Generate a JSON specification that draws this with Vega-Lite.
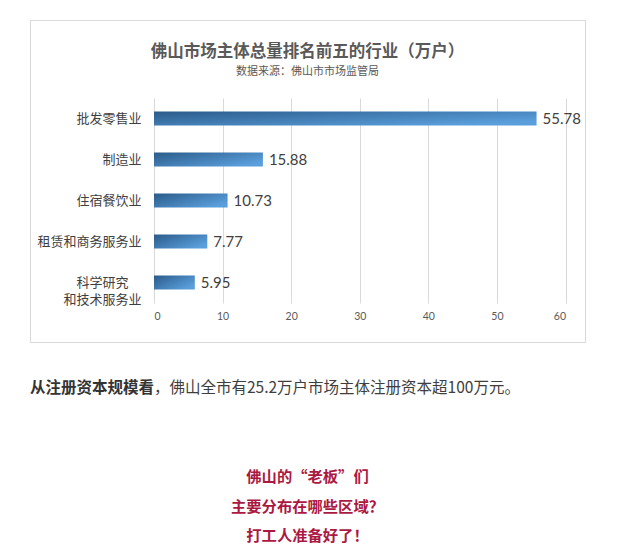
{
  "$schema": "https://vega.github.io/schema/vega-lite/v6.json",
  "autosize": {"type": "pad"},
  "padding": {"left": 29, "top": 19, "right": 5, "bottom": 0},
  "background": "white",
  "spacing": 30,
  "config": {"view": {"stroke": null}, "font": "Noto Sans CJK SC"},
  "vconcat": [
    {
      "width": 555,
      "height": 322,
      "view": {"stroke": "#d9d9d9", "strokeWidth": 1, "fill": "white"},
      "title": {
        "text": "佛山市场主体总量排名前五的行业（万户）",
        "subtitle": "数据来源：佛山市市场监管局",
        "anchor": "middle",
        "frame": "group",
        "offset": -57,
        "font": "Noto Sans CJK SC",
        "fontSize": 16.5,
        "fontWeight": "bold",
        "color": "#595959",
        "subtitleFont": "Noto Sans CJK SC",
        "subtitleFontSize": 11,
        "subtitleColor": "#595959",
        "subtitlePadding": 6
      },
      "data": {
        "values": [
          {"industry": "批发零售业", "value": 55.78},
          {"industry": "制造业", "value": 15.88},
          {"industry": "住宿餐饮业", "value": 10.73},
          {"industry": "租赁和商务服务业", "value": 7.77},
          {"industry": "科学研究和技术服务业", "value": 5.95}
        ]
      },
      "encoding": {
        "y": {
          "field": "industry",
          "type": "nominal",
          "sort": null,
          "title": null,
          "scale": {"range": [78, 283], "paddingInner": 0.66, "paddingOuter": 0.33},
          "axis": {
            "orient": "left",
            "offset": -124,
            "domain": false,
            "ticks": false,
            "grid": false,
            "labelPadding": 13,
            "labelFont": "Noto Sans CJK SC",
            "labelFontSize": 13,
            "labelColor": "#404040",
            "labelLimit": 200,
            "labelLineHeight": 17.5,
            "labelExpr": "datum.label == '科学研究和技术服务业' ? ['科学研究　\u200b', '和技术服务业'] : datum.label"
          }
        },
        "x": {
          "field": "value",
          "type": "quantitative",
          "title": null,
          "scale": {"domain": [0, 60], "range": [124, 535.5], "nice": false, "zero": true},
          "axis": {
            "orient": "bottom",
            "offset": -39,
            "values": [0, 10, 20, 30, 40, 50, 60],
            "domain": false,
            "grid": false,
            "ticks": true,
            "tickSize": -205,
            "tickColor": "#d9d9d9",
            "tickWidth": 1,
            "labelPadding": 218,
            "labelBaseline": "middle",
            "labelFont": "Lato",
            "labelFontSize": 10.5,
            "labelColor": "#595959"
          }
        }
      },
      "layer": [
        {
          "mark": {
            "type": "bar",
            "color": {
              "gradient": "linear",
              "x1": 0, "y1": 0, "x2": 1, "y2": 0.7,
              "stops": [
                {"offset": 0, "color": "#2b5b8a"},
                {"offset": 1, "color": "#5a9fdc"}
              ]
            }
          }
        },
        {
          "mark": {"type": "text", "align": "left", "baseline": "middle", "dx": 6, "font": "Lato", "fontSize": 15, "color": "#404040"},
          "encoding": {"text": {"field": "value", "type": "quantitative", "format": ".2f"}}
        }
      ]
    },
    {
      "width": 555,
      "height": 178,
      "data": {
        "values": [
          {"line": 1, "kind": "lead", "text": "从注册资本规模看"},
          {"line": 1, "kind": "body", "text": "\u200b　　　　　　　　，佛山全市有25.2万户市场主体注册资本超100万元。"},
          {"line": 4, "kind": "callout", "text": "佛山的“老板”们"},
          {"line": 5, "kind": "callout", "text": "主要分布在哪些区域？"},
          {"line": 6, "kind": "callout", "text": "打工人准备好了！"}
        ]
      },
      "encoding": {
        "y": {
          "field": "line",
          "type": "ordinal",
          "scale": {"type": "point", "domain": [1, 2, 3, 4, 5, 6], "padding": 0.5},
          "axis": null
        }
      },
      "layer": [
        {
          "transform": [{"filter": "datum.kind == 'lead'"}],
          "mark": {"type": "text", "align": "left", "baseline": "middle", "x": 0, "font": "Noto Sans CJK SC", "fontSize": 15.5, "fontWeight": "bold", "color": "#333333"},
          "encoding": {"text": {"field": "text"}}
        },
        {
          "transform": [{"filter": "datum.kind == 'body'"}],
          "mark": {"type": "text", "align": "left", "baseline": "middle", "x": 0, "font": "Noto Sans CJK SC", "fontSize": 15.5, "color": "#3e3e3e"},
          "encoding": {"text": {"field": "text"}}
        },
        {
          "transform": [{"filter": "datum.kind == 'callout'"}],
          "mark": {"type": "text", "align": "center", "baseline": "middle", "font": "Noto Sans CJK SC", "fontSize": 15.3, "fontWeight": "bold", "color": "#ab1942"},
          "encoding": {"text": {"field": "text"}}
        }
      ]
    }
  ]
}
